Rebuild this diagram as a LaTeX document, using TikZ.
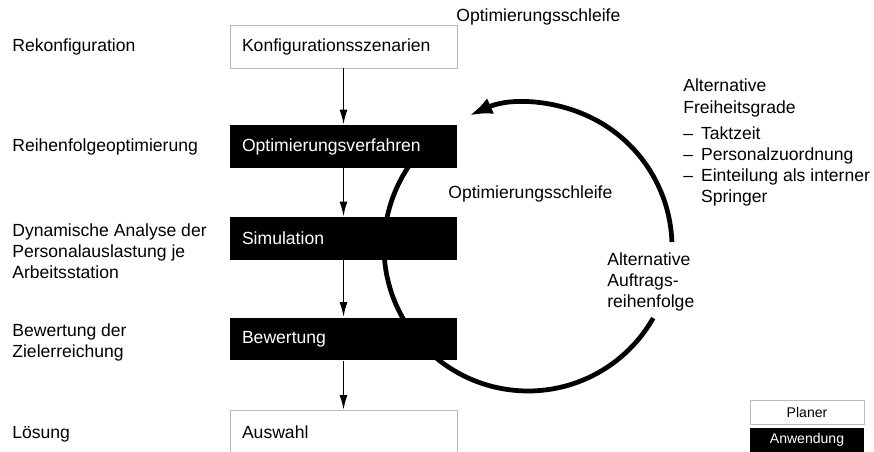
\documentclass[tikz,border=0pt]{standalone}
\usepackage{fontspec}
\setmainfont{Liberation Sans}
\usetikzlibrary{arrows.meta}
\usetikzlibrary{positioning}
\tikzset{
  stepbox/.style={rectangle,minimum width=4.54cm,minimum height=0.86cm,
    text width=4.06cm,inner xsep=0.24cm,inner ysep=0pt,align=left},
  planerbox/.style={stepbox,draw=gray!55,fill=white,line width=0.5pt},
  anwendungbox/.style={stepbox,fill=black,text=white},
  phase/.style={anchor=west,align=left,inner sep=0pt},
  flow/.style={-{Latex[length=0.3cm,width=0.16cm]},line width=1pt},
}
\begin{document}
\begin{tikzpicture}[x=0.02cm,y=-0.02cm,font=\fontsize{10pt}{12pt}\selectfont]
  \useasboundingbox (0,0) rectangle (874,452);
  %LOOP
  \coordinate (loopcenter) at (528,247);
  \draw[line width=0.095cm] (loopcenter) ++(125:2.88cm)
    arc[start angle=125,end angle=330.4,radius=2.88cm];
  \draw[line width=0.095cm,-{Latex[length=0.46cm,width=0.34cm]}] (loopcenter) ++(2:2.88cm)
    arc[start angle=2,end angle=114,radius=2.88cm];
  %BOXES
  \node[planerbox] (konfig) at (343.5,46.5) {Konfigurationsszenarien};
  \node[anwendungbox] (optverf) at (343.5,146.5) {Optimierungsverfahren};
  \node[anwendungbox] (simulation) at (343.5,238.5) {Simulation};
  \node[anwendungbox] (bewertung) at (343.5,339) {Bewertung};
  \node[planerbox] (auswahl) at (343.5,432) {Auswahl};
  %ARROWS
  \draw[flow] (konfig.south) -- (optverf.north);
  \draw[flow] (optverf.south) -- (simulation.north);
  \draw[flow] (simulation.south) -- (bewertung.north);
  \draw[flow] (bewertung.south) -- (auswahl.north);
  %PHASES
  \node[phase] (rekonf) at (12,47) {Rekonfiguration};
  \node[phase] (reihenf) at (12,147) {Reihenfolgeoptimierung};
  \node[phase] (analyse) at (12,251) {Dynamische Analyse der\\Personalauslastung je\\Arbeitsstation};
  \node[phase] (ziel) at (12,342.5) {Bewertung der\\Zielerreichung};
  \node[phase] (loesung) at (12,434) {Lösung};
  %LABELS
  \node[phase] (schleifeoben) at (456,17) {Optimierungsschleife};
  \node[phase] (schleifeinnen) at (448,194) {Optimierungsschleife};
  \node[phase] (freiheit) at (683,98) {Alternative\\Freiheitsgrade};
  \node[phase] (liste) at (683,167) {\begin{tabular}{@{}l@{\hspace{4.5pt}}l@{}}
      – & Taktzeit\\
      – & Personalzuordnung\\
      – & Einteilung als interner\\
        & Springer
    \end{tabular}};
  \node[phase] (auftrag) at (607,282) {Alternative\\Auftrags-\\reihenfolge};
  %LEGEND
  \node[draw=gray!55,fill=white,line width=0.5pt,minimum width=2.28cm,minimum height=0.48cm,
    inner sep=0pt,font=\fontsize{8pt}{9.6pt}\selectfont] (planer) at (807,412) {Planer};
  \node[fill=black,text=white,minimum width=2.28cm,minimum height=0.48cm,
    inner sep=0pt,font=\fontsize{8pt}{9.6pt}\selectfont] (anwendung) at (807,439.5) {Anwendung};
\end{tikzpicture}
\end{document}
